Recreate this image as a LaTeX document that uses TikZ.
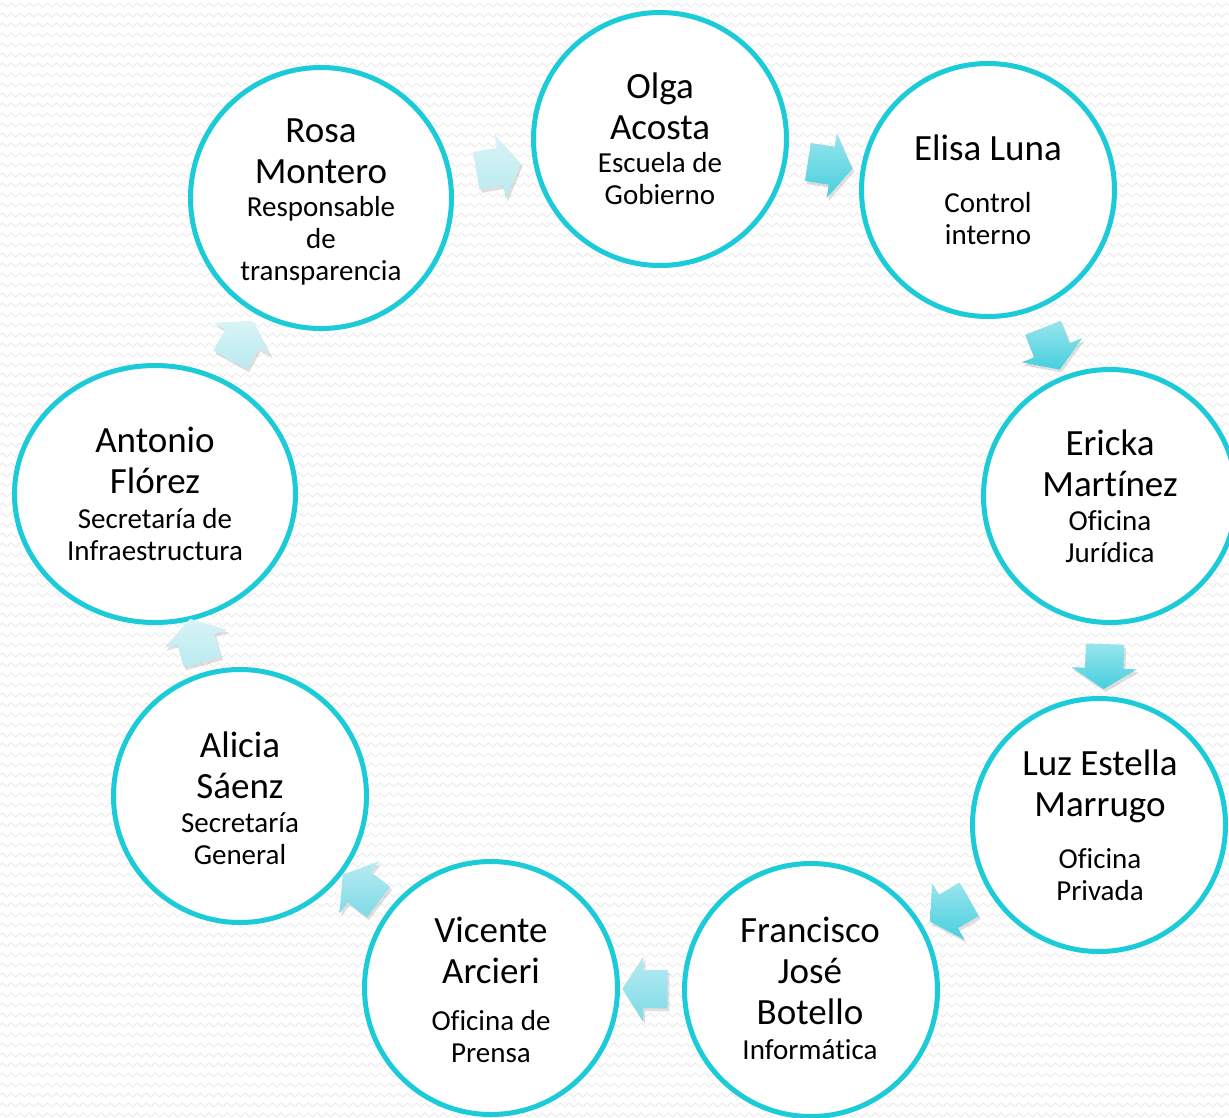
\documentclass[tikz,border=0pt]{standalone}
\usepackage{fontspec}
\setmainfont{Carlito}[Ligatures=NoCommon]
\usetikzlibrary{shapes.geometric,shapes.arrows,shadows,decorations.pathmorphing}
\definecolor{turquesa}{RGB}{27,203,216}
\definecolor{fondo}{RGB}{234,234,234}
\definecolor{clara}{RGB}{185,234,240}
\definecolor{media}{RGB}{125,218,230}
\definecolor{fuerte}{RGB}{70,207,222}
\newcommand{\nombre}{\fontsize{37}{41}\selectfont}
\newcommand{\cargo}{\fontsize{29}{32}\selectfont}

\begin{document}
\begin{tikzpicture}
  [x=1pt,y=-1pt,
   persona/.style={circle,draw=turquesa,line width=5pt,fill=white,minimum size=253pt,inner sep=0pt},
   nom/.style={align=center,font=\nombre,inner sep=0pt},
   car/.style={align=center,font=\cargo,inner sep=0pt},
   flecha/.style={single arrow,draw=none,top color=#1!55,bottom color=#1,
     minimum height=45pt,inner xsep=0pt,inner ysep=19pt,single arrow head extend=13.5pt,
     single arrow tip angle=115,
     drop shadow={opacity=0.25,shadow xshift=2pt,shadow yshift=-3pt}}]
  \useasboundingbox (0,0) rectangle (1229,1117);
  % fondo
  \fill[white] (0,0) rectangle (1229,1117);
  \foreach \fy in {5,15,...,1115}
    \draw[fondo,line width=0.8pt,decorate,decoration={zigzag,segment length=9pt,amplitude=2pt}] (0,\fy) -- (1229,\fy);

  \node[persona] (olga) at (660,139) {};
  \node[persona] (elisa) at (988,190) {};
  \node[persona] (ericka) at (1110,496) {};
  \node[persona] (luz) at (1099,825) {};
  \node[persona] (francisco) at (811,990) {};
  \node[persona] (vicente) at (491,988) {};
  \node[persona] (alicia) at (240,796) {};
  \node[persona,ellipse,minimum width=281pt,minimum height=257pt] (antonio) at (155,494) {};
  \node[persona,minimum size=261pt] (rosa) at (321,198) {};

  \node[nom] (olga-n) at (660,106) {Olga\\Acosta};
  \node[car] (olga-c) at (660,179) {Escuela de\\Gobierno};
  \node[nom] (elisa-n) at (988,148) {Elisa Luna};
  \node[car] (elisa-c) at (988,219) {Control\\interno};
  \node[nom] (ericka-n) at (1110,463) {Ericka\\Martínez};
  \node[car] (ericka-c) at (1110,537) {Oficina\\Jurídica};
  \node[nom] (luz-n) at (1100,786) {Luz Estella\\Marrugo};
  \node[car] (luz-c) at (1100,875) {Oficina\\Privada};
  \node[nom] (francisco-n) at (810,971) {Francisco\\José\\Botello};
  \node[car] (francisco-c) at (810,1050) {Informática};
  \node[nom] (vicente-n) at (491,950) {Vicente\\Arcieri};
  \node[car] (vicente-c) at (491,1037) {Oficina de\\Prensa};
  \node[nom] (alicia-n) at (240,765) {Alicia\\Sáenz};
  \node[car] (alicia-c) at (240,839) {Secretaría\\General};
  \node[nom] (antonio-n) at (155,460) {Antonio\\Flórez};
  \node[car] (antonio-c) at (155,535) {Secretaría de\\Infraestructura};
  \node[nom] (rosa-n) at (321,151) {Rosa\\Montero};
  \node[car] (rosa-c) at (321,241) {Responsable\\de\\transparencia};

  % flechas del ciclo
  \foreach \from/\to/\tono in {rosa/olga/clara,olga/elisa/fuerte,elisa/ericka/fuerte,
      ericka/luz/fuerte,luz/francisco/fuerte,francisco/vicente/media,
      vicente/alicia/media,alicia/antonio/clara,antonio/rosa/clara}
    \path (\from) -- (\to) node[midway,sloped,allow upside down,flecha=\tono] {};
\end{tikzpicture}
\end{document}
